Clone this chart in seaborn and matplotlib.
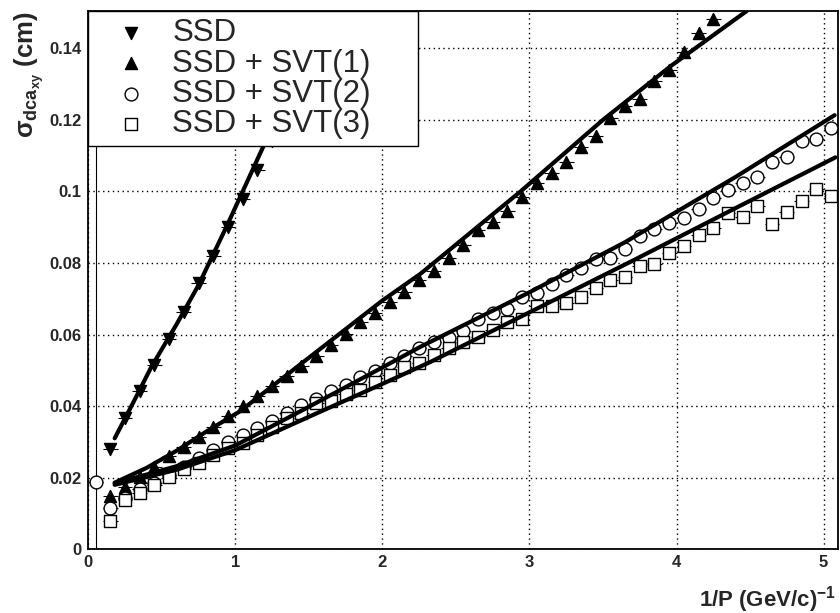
import numpy as np
import pandas as pd
import matplotlib
matplotlib.use("Agg")
import matplotlib.pyplot as plt
import seaborn as sns

# bin centres of 1/P (GeV/c)^-1
bin_centers = [0.05, 0.15, 0.25, 0.35, 0.45, 0.55, 0.65, 0.75, 0.85, 0.95,
               1.05, 1.15, 1.25, 1.35, 1.45, 1.55, 1.65, 1.75, 1.85, 1.95,
               2.05, 2.15, 2.25, 2.35, 2.45, 2.55, 2.65, 2.75, 2.85, 2.95,
               3.05, 3.15, 3.25, 3.35, 3.45, 3.55, 3.65, 3.75, 3.85, 3.95,
               4.05, 4.15, 4.25, 4.35, 4.45, 4.55, 4.65, 4.75, 4.85, 4.95,
               5.05]

ssd = [0.0280, 0.0368, 0.0442, 0.0515, 0.0587, 0.0664, 0.0743, 0.0820,
       0.0901, 0.0979, 0.1060, 0.1140, 0.1220, 0.1300, 0.1390, 0.1505]

svt1 = [0.0149, 0.0175, 0.0202, 0.0229, 0.0261, 0.0287, 0.0315, 0.0343,
        0.0372, 0.0401, 0.0429, 0.0457, 0.0484, 0.0512, 0.0540, 0.0571,
        0.0602, 0.0636, 0.0659, 0.0692, 0.0718, 0.0751, 0.0778, 0.0813,
        0.0850, 0.0892, 0.0915, 0.0946, 0.0985, 0.1023, 0.1052, 0.1081,
        0.1125, 0.1155, 0.1205, 0.1239, 0.1257, 0.1309, 0.1339, 0.1390,
        0.1444, 0.1481]

svt2 = [0.0189, 0.0115, 0.0142, 0.0168, 0.0186, 0.0208, 0.0231, 0.0256,
        0.0277, 0.0301, 0.0318, 0.0339, 0.0359, 0.0381, 0.0403, 0.0419,
        0.0441, 0.0460, 0.0481, 0.0499, 0.0520, 0.0540, 0.0561, 0.0578,
        0.0591, 0.0610, 0.0643, 0.0659, 0.0672, 0.0704, 0.0717, 0.0740,
        0.0766, 0.0786, 0.0812, 0.0815, 0.0839, 0.0875, 0.0895, 0.0913,
        0.0925, 0.0951, 0.0982, 0.1004, 0.1024, 0.1041, 0.1081, 0.1095,
        0.1142, 0.1146, 0.1178]

svt3 = [0.0080, 0.0138, 0.0158, 0.0180, 0.0201, 0.0224, 0.0242, 0.0263,
        0.0282, 0.0298, 0.0320, 0.0343, 0.0368, 0.0382, 0.0408, 0.0415,
        0.0434, 0.0445, 0.0468, 0.0487, 0.0509, 0.0520, 0.0543, 0.0562,
        0.0580, 0.0594, 0.0613, 0.0636, 0.0643, 0.0680, 0.0680, 0.0689,
        0.0706, 0.0729, 0.0752, 0.0760, 0.0792, 0.0797, 0.0827, 0.0847,
        0.0878, 0.0897, 0.0939, 0.0929, 0.0959, 0.0908, 0.0942, 0.0974,
        0.1006, 0.0988]

# fitted curves
fit_ssd_x = [0.18, 0.30, 0.43, 0.60, 0.75, 0.95, 1.19, 1.45, 1.70]
fit_ssd_y = [0.0310, 0.0405, 0.0510, 0.0628, 0.0738, 0.0910, 0.1125, 0.1350, 0.1570]
fit_svt1_x = [0.18, 0.40, 0.60, 0.80, 1.03, 1.50, 2.00, 2.26, 2.94, 3.50, 3.96, 4.48]
fit_svt1_y = [0.0186, 0.0228, 0.0275, 0.0328, 0.0385, 0.0535, 0.0695, 0.0770,
              0.1000, 0.1200, 0.1350, 0.1505]
fit_svt2_x = [0.18, 0.60, 1.00, 1.50, 2.00, 2.26, 3.00, 3.65, 4.40, 5.075]
fit_svt2_y = [0.0184, 0.0232, 0.0290, 0.0398, 0.0508, 0.0566, 0.0718, 0.0858,
              0.1040, 0.1213]
fit_svt3_x = [0.18, 0.60, 1.00, 1.50, 2.00, 2.33, 3.00, 3.70, 4.40, 5.08]
fit_svt3_y = [0.0180, 0.0222, 0.0277, 0.0370, 0.0462, 0.0524, 0.0662, 0.0806,
              0.0953, 0.1095]

sns.set_style("white")
plt.rcParams['font.family'] = ['Liberation Sans', 'DejaVu Sans']
plt.rcParams['mathtext.fontset'] = 'custom'
plt.rcParams['mathtext.rm'] = 'Liberation Sans:bold'
plt.rcParams['mathtext.bf'] = 'Liberation Sans:bold'
plt.rcParams['mathtext.it'] = 'Liberation Sans:bold'
plt.rcParams['mathtext.default'] = 'bf'

fig = plt.figure(figsize=(8.4, 6.13), dpi=100)
ax = fig.add_axes([0.105, 0.104, 0.893, 0.878])

series = [
    ("SSD", bin_centers[1:1 + len(ssd)], ssd, "v", "black"),
    ("SSD + SVT(1)", bin_centers[1:1 + len(svt1)], svt1, "^", "black"),
    ("SSD + SVT(2)", bin_centers[:len(svt2)], svt2, "o", "white"),
    ("SSD + SVT(3)", bin_centers[1:1 + len(svt3)], svt3, "s", "white"),
]

for name, xs, ys, mk, fc in series:
    yerr = np.zeros((2, len(ys)))
    if name == "SSD + SVT(2)":
        # first bin has a huge vertical error
        yerr[0, 0] = ys[0]
        yerr[1, 0] = 0.3
    ax.errorbar(xs, ys, xerr=0.05, yerr=yerr, fmt='none', ecolor='black',
                elinewidth=0.8, capsize=0, zorder=2)
    df = pd.DataFrame({"x": xs, "y": ys})
    size = 85 if mk == "o" else 75
    sns.scatterplot(data=df, x="x", y="y", marker=mk, s=size, color=fc,
                    edgecolor='black', linewidth=1.0, label=name, ax=ax,
                    zorder=3)

for fx, fy in [(fit_ssd_x, fit_ssd_y), (fit_svt1_x, fit_svt1_y),
               (fit_svt2_x, fit_svt2_y), (fit_svt3_x, fit_svt3_y)]:
    sns.lineplot(x=fx, y=fy, sort=False, estimator=None, color='black',
                 linewidth=3.0, ax=ax, zorder=4)

ax.set_xlim(0, 5.1)
ax.set_ylim(0, 0.1504)
ax.set_xticks([0, 1, 2, 3, 4, 5])
ax.set_xticks(np.arange(0, 5.1, 0.2), minor=True)
ax.set_yticks([0, 0.02, 0.04, 0.06, 0.08, 0.1, 0.12, 0.14])
ax.set_yticks(np.arange(0, 0.1504, 0.005), minor=True)
ax.set_xticklabels(["0", "1", "2", "3", "4", "5"])
ax.set_yticklabels(["0", "0.02", "0.04", "0.06", "0.08", "0.1", "0.12", "0.14"])
ax.tick_params(axis='both', which='both', direction='in', width=1.0,
               labelsize=12, top=False, right=False)
ax.tick_params(axis='x', which='major', length=11.5, pad=4)
ax.tick_params(axis='x', which='minor', length=5)
ax.tick_params(axis='y', which='major', length=14, pad=5)
ax.tick_params(axis='y', which='minor', length=7)
for lab in ax.get_xticklabels() + ax.get_yticklabels():
    lab.set_fontweight('bold')

ax.grid(True, which='major', color='black', linestyle=(0, (1, 2.5)), linewidth=1.0)
ax.set_axisbelow(True)
for sp in ax.spines.values():
    sp.set_color('black')
    sp.set_linewidth(1.3)

ax.set_xlabel(r"1/P (GeV/c)$^{-1}$", fontsize=16, fontweight='bold')
ax.xaxis.set_label_coords(0.997, -0.064)
ax.xaxis.label.set_horizontalalignment('right')
ax.set_ylabel(r"$\sigma_{dca_{xy}}$ (cm)", fontsize=18.5, fontweight='bold')
ax.yaxis.set_label_coords(-0.056, 1.0)
ax.yaxis.label.set_horizontalalignment('right')

leg = ax.legend(loc='upper left', bbox_to_anchor=(0, 0, 0.439, 1.0),
                mode='expand', borderaxespad=0, fontsize=22.5, frameon=True,
                fancybox=False, framealpha=1, edgecolor='black',
                handlelength=2.29, handletextpad=0.17, labelspacing=0.01,
                borderpad=0.23, markerscale=1.0)
leg.get_frame().set_linewidth(1.0)
leg.set_zorder(10)

fig.savefig("out.png", dpi=100, facecolor='white')
